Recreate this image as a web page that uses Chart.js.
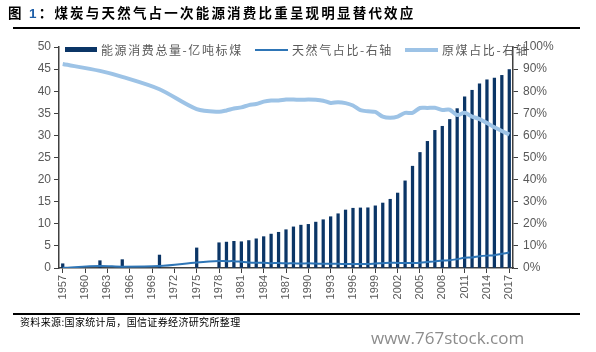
<!DOCTYPE html>
<html><head><meta charset="utf-8">
<script src="https://cdn.jsdelivr.net/npm/chart.js@4.4.1/dist/chart.umd.min.js"></script>
<style>
html,body{margin:0;padding:0;background:#fff;}
#wrap{position:relative;width:596px;height:352px;overflow:hidden;font-family:"Noto Sans CJK SC","DejaVu Sans",sans-serif;}
#c{position:absolute;left:0;top:0;}
.abs{position:absolute;white-space:nowrap;}
#title{left:8px;top:3px;font-size:13.5px;font-weight:bold;color:#000;line-height:18px;letter-spacing:2.2px;}
#title .n{color:#1f5fa8;font-family:"Liberation Sans",Arial,sans-serif;}
.rule{position:absolute;left:13px;width:567px;height:1.5px;background:#000;}
#src{left:20px;top:314px;font-size:10px;color:#000;line-height:16px;letter-spacing:0.35px;}
#wm{left:371px;top:326px;font-size:17px;color:#8c8c8c;font-family:"Open Sans","DejaVu Sans",sans-serif;}
.lg{position:absolute;top:42px;font-size:12px;color:#595959;line-height:16px;letter-spacing:1.6px;}
.sw{position:absolute;}
</style></head>
<body><div id="wrap">
<canvas id="c" width="596" height="352"></canvas>
<div id="title" class="abs">图 <span class="n">1</span>：煤炭与天然气占一次能源消费比重呈现明显替代效应</div>
<div class="rule" style="top:27px"></div>
<div class="sw" style="left:65px;top:47px;width:32px;height:5px;background:#0b3566"></div>
<div class="lg" style="left:101px">能源消费总量-亿吨标煤</div>
<div class="sw" style="left:255px;top:49px;width:33px;height:2px;background:#2e75b6"></div>
<div class="lg" style="left:292px">天然气占比-右轴</div>
<div class="sw" style="left:405px;top:48px;width:33px;height:4px;background:#9dc3e6"></div>
<div class="lg" style="left:442px">原煤占比-右轴</div>
<div class="rule" style="top:313px"></div>
<div id="src" class="abs">资料来源:国家统计局，国信证券经济研究所整理</div>
<div id="wm" class="abs">www.767stock.com</div>
</div>
<script>
const years = [];
for (let y = 1957; y <= 2017; y++) years.push(String(y));

const dataYears = [1957,1962,1965,1970,1975,1978,1979,1980,1981,1982,1983,1984,1985,1986,1987,1988,1989,1990,1991,1992,1993,1994,1995,1996,1997,1998,1999,2000,2001,2002,2003,2004,2005,2006,2007,2008,2009,2010,2011,2012,2013,2014,2015,2016,2017];
const energyTotal = [0.96,1.65,1.89,2.93,4.54,5.71,5.86,6.03,5.94,6.21,6.60,7.09,7.67,8.08,8.66,9.30,9.69,9.87,10.38,10.92,11.60,12.27,13.12,13.52,13.59,13.62,14.06,14.70,15.55,16.96,19.71,23.03,26.14,28.65,31.14,32.06,33.61,36.06,38.70,40.21,41.69,42.58,42.99,43.58,44.90];
const gasShare = [0.1,0.9,0.6,0.9,2.5,3.2,3.1,3.1,2.8,2.5,2.4,2.4,2.2,2.3,2.1,2.1,2.0,2.1,2.0,1.9,1.9,1.9,1.8,1.8,1.8,1.8,2.0,2.2,2.4,2.3,2.3,2.3,2.4,2.7,3.0,3.4,3.5,4.0,4.6,4.8,5.3,5.6,5.8,6.4,7.0];
const coalShare = [92.3,89.2,86.5,80.9,71.9,70.7,71.3,72.2,72.7,73.7,74.2,75.3,75.8,75.8,76.2,76.2,76.1,76.2,76.1,75.7,74.7,75.0,74.6,73.5,71.4,70.9,70.6,68.5,68.0,68.5,70.2,70.2,72.4,72.4,72.5,71.5,71.6,69.2,70.2,68.5,67.4,65.6,63.7,62.0,60.4];
const leftTicks = [0,5,10,15,20,25,30,35,40,45,50];
const rightTicks = [0,10,20,30,40,50,60,70,80,90,100];

function spread(vals){
  const out = years.map(()=>null);
  dataYears.forEach((y,i)=>{ out[y-1957] = vals[i]; });
  return out;
}

const tickFont = {family:"'Liberation Sans', Arial, sans-serif", size:12};
new Chart(document.getElementById('c'), {
  data: {
    labels: years,
    datasets: [
      {type:'line', label:'原煤占比-右轴', data:spread(coalShare), yAxisID:'y1', borderColor:'#9dc3e6', borderWidth:4, pointRadius:0, spanGaps:true, tension:0.3, order:1},
      {type:'line', label:'天然气占比-右轴', data:spread(gasShare), yAxisID:'y1', borderColor:'#2e75b6', borderWidth:2, pointRadius:0, spanGaps:true, tension:0.3, order:0},
      {type:'bar', label:'能源消费总量-亿吨标煤', data:spread(energyTotal), yAxisID:'y', backgroundColor:'#0b3566', barThickness:2.6, order:2}
    ]
  },
  options: {
    responsive:false, animation:false, devicePixelRatio:1,
    layout:{padding:{top:47,left:0,right:0,bottom:0}},
    plugins:{legend:{display:false}, tooltip:{enabled:false}},
    scales:{
      x:{
        offset:true,
        grid:{drawOnChartArea:false, offset:false, drawTicks:true, tickLength:5, color:'#404040'},
        border:{color:'#404040', width:1.5},
        ticks:{autoSkip:false, minRotation:90, maxRotation:90, padding:2, color:'#595959', font:{family:"'Liberation Sans', Arial, sans-serif", size:11},
          callback:function(v,i){ return ((i)%3===0) ? years[i] : null; }},
        afterFit:function(s){ s.height = 84; }
      },
      y:{
        position:'left', min:0, max:50,
        afterBuildTicks:function(s){ s.ticks = leftTicks.map(v=>({value:v})); },
        grid:{drawOnChartArea:false, tickLength:5, color:'#404040'},
        border:{color:'#404040', width:1.5},
        ticks:{color:'#595959', font:tickFont, padding:3},
        afterFit:function(s){ s.width = 59; }
      },
      y1:{
        position:'right', min:0, max:100,
        afterBuildTicks:function(s){ s.ticks = rightTicks.map(v=>({value:v})); },
        grid:{drawOnChartArea:false, tickLength:5, color:'#404040'},
        border:{color:'#404040', width:1.5},
        ticks:{color:'#595959', font:tickFont, padding:5, callback:v=>v+'%'},
        afterFit:function(s){ s.width = 83; }
      }
    }
  }
});
</script>
</body></html>
